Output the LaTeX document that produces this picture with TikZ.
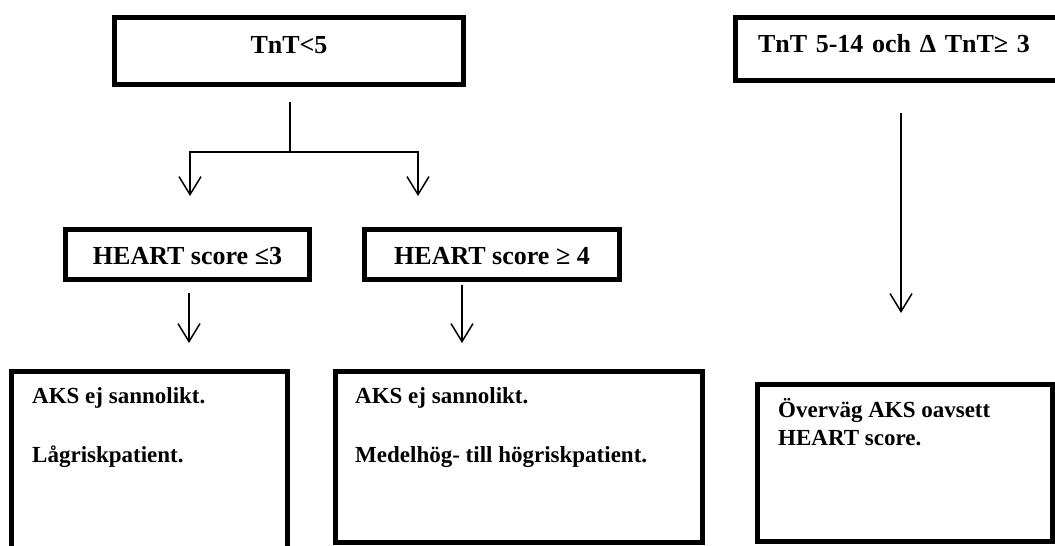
\documentclass[tikz,border=0pt]{standalone}
\usepackage{fontspec}
\setmainfont{Liberation Serif}
\usepackage{tikz}
\usetikzlibrary{arrows.meta}

\begin{document}
\begin{tikzpicture}[x=1pt, y=1pt, >={Straight Barb[length=18pt,width=22pt]},
    every node/.style={font=\bfseries},
    headbox/.style={draw, line width=5pt, outer sep=0pt, inner sep=0pt,
      text height=19pt, text depth=0pt, font=\fontsize{26}{30}\selectfont\bfseries},
    endbox/.style={draw, line width=5pt, outer sep=0pt, inner sep=0pt},
    bodytext/.style={anchor=base west, align=left, inner sep=0pt,
      font=\fontsize{23}{28}\selectfont\bfseries},
    arrow/.style={->, line width=1.5pt}]

    \useasboundingbox (0,0) rectangle (1055,-546);
    \clip (0,0) rectangle (1055,-546);

    % top row: the two troponin boxes
    \node[headbox, minimum width=349pt, minimum height=67pt,
      text height=18pt, text depth=14pt] (tnt) at (289,-51) {TnT<5};
    \node[headbox, minimum width=344.5pt, minimum height=63pt, text width=299.5pt,
      inner xsep=22.5pt, align=left, text height=18pt, text depth=11pt]
      (tntdelta) at (907.75,-48.5) {TnT 5-14 och Δ TnT≥ 3};

    % HEART score split
    \node[headbox, minimum width=244pt, minimum height=50pt] (heartlow) at (187.5,-254.5) {HEART score ≤3};
    \node[headbox, minimum width=255pt, minimum height=50pt] (hearthigh) at (492,-254.5) {HEART score ≥ 4};

    % result boxes (left one runs off the bottom edge)
    \node[endbox, minimum width=276.5pt, minimum height=189pt] (lowbox) at (149.25,-465.5) {};
    \node[endbox, minimum width=367.5pt, minimum height=171.5pt] (midbox) at (518.75,-456.75) {};
    \node[endbox, minimum width=295pt, minimum height=157pt] (rightbox) at (905,-462.5) {};

    % base of a two-line node sits on its last line
    \node[bodytext] (lowtext) at (32,-462) {AKS ej sannolikt.\\[31pt]Lågriskpatient.};
    \node[bodytext] (midtext) at (355,-462) {AKS ej sannolikt.\\[31pt]Medelhög- till högriskpatient.};
    \node[bodytext] (righttext) at (778,-445) {Överväg AKS oavsett\\HEART score.};

    % free ends of the arrows
    \coordinate (split) at (290,-152);
    \coordinate (lowin) at (190,-196);
    \coordinate (highin) at (418,-196);
    \coordinate (lowend) at (189,-343);
    \coordinate (highend) at (462,-343);
    \coordinate (deltaend) at (901,-313);

    \draw[line width=1.5pt] (split |- tnt.south) ++(0,-17.5) -- (split);
    \draw[arrow] (split) -| (lowin);
    \draw[arrow] (split) -| (highin);

    \draw[arrow] (lowend |- heartlow.south) ++(0,-13.5) -- (lowend);
    \draw[arrow] (highend |- hearthigh.south) ++(0,-5.5) -- (highend);
    \draw[arrow] (deltaend |- tntdelta.south) ++(0,-33) -- (deltaend);

\end{tikzpicture}
\end{document}
